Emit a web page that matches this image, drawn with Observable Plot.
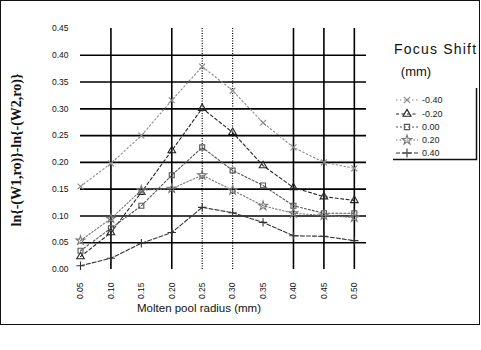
<!DOCTYPE html>
<html><head><meta charset="utf-8">
<script src="https://cdn.jsdelivr.net/npm/d3@7"></script>
<script src="https://cdn.jsdelivr.net/npm/@observablehq/plot@0.6"></script>
<style>
body{margin:0;background:#fff;}
#wrap{position:relative;width:481px;height:350px;overflow:hidden;font-family:Arial,"Liberation Sans",sans-serif;color:#111;}
#chart{position:absolute;left:0;top:0;}
#frame{position:absolute;left:0;top:0;width:478px;height:323px;border:1.5px solid #111;pointer-events:none;}
.t{position:absolute;white-space:nowrap;}
#ytitle{left:17px;top:150px;transform:translate(-50%,-50%) rotate(-90deg);font-family:"Liberation Serif","Times New Roman",serif;font-weight:bold;font-size:14px;}
#xtitle{left:199px;top:308px;transform:translate(-50%,-50%);font-size:11.5px;}
#ltitle{left:394px;top:49px;transform:translateY(-50%);font-size:14px;letter-spacing:1.2px;}
#lunit{left:416px;top:71px;transform:translate(-50%,-50%);font-size:13px;}
#legend{position:absolute;left:0;top:0;}
</style></head>
<body><div id="wrap"><div id="chart"></div><svg id="legend" width="481" height="350"></svg>
<div class="t" id="ytitle">ln{-(W1,ro)}-ln{-(W2,ro)}</div>
<div class="t" id="xtitle">Molten pool radius (mm)</div>
<div class="t" id="ltitle">Focus Shift</div>
<div class="t" id="lunit">(mm)</div>
<div id="frame"></div></div>
<script>
// Molten pool radius (mm) – x categories / tick labels
const radius = [0.05, 0.10, 0.15, 0.20, 0.25, 0.30, 0.35, 0.40, 0.45, 0.50];
// y tick labels
const yTicks = [0, 0.05, 0.10, 0.15, 0.20, 0.25, 0.30, 0.35, 0.40, 0.45];
const yGrid = [0.05, 0.10, 0.15, 0.20, 0.25, 0.30, 0.35, 0.40];
// vertical grid lines visible in the scan (solid and faint dotted ones)
const xGridSolid = [0.10, 0.20, 0.40, 0.45, 0.50];
const xGridDotted = [0.25, 0.30];
// Focus shift series names
const focusShifts = ["-0.40", "-0.20", "0.00", "0.20", "0.40"];
// series values
const shiftM040 = [0.155, 0.198, 0.250, 0.316, 0.379, 0.334, 0.274, 0.228, 0.200, 0.189];
const shiftM020 = [0.024, 0.069, 0.144, 0.222, 0.301, 0.256, 0.194, 0.153, 0.136, 0.129];
const shift000  = [0.035, 0.077, 0.119, 0.176, 0.228, 0.185, 0.157, 0.119, 0.105, 0.105];
const shift020  = [0.054, 0.095, 0.148, 0.151, 0.176, 0.148, 0.119, 0.105, 0.101, 0.097];
const shift040  = [0.007, 0.021, 0.049, 0.069, 0.116, 0.106, 0.088, 0.063, 0.062, 0.054];
const seriesValues = [shiftM040, shiftM020, shift000, shift020, shift040];

const styles = [
  {stroke:"#8a8a8a", dash:"1.5,2.5", symbol:"times"},
  {stroke:"#222", dash:"3,2.5", symbol:"triangle"},
  {stroke:"#555", dash:"2,2", symbol:"square"},
  {stroke:"#777", dash:"1.5,2", symbol:"star"},
  {stroke:"#333", dash:"4,2", symbol:"plus"}
];

const marks = [
  Plot.gridY(yGrid, {stroke:"#000", strokeOpacity:1, strokeWidth:1.6}),
  Plot.gridX(xGridSolid, {stroke:"#000", strokeOpacity:1, strokeWidth:1.6}),
  Plot.gridX(xGridDotted, {stroke:"#000", strokeOpacity:1, strokeWidth:1.2, strokeDasharray:"1,1.5"}),
  Plot.axisY(yTicks, {tickSize:0, tickPadding:12, tickFormat:d3.format(".2f"), fontSize:8.5, label:null}),
  Plot.axisX(radius, {tickSize:0, tickPadding:13, tickRotate:-90, tickFormat:d3.format(".2f"), fontSize:8.5, label:null})
];
seriesValues.forEach((vals, i) => {
  const d = radius.map((x, j) => ({x, y: vals[j]}));
  const s = styles[i];
  marks.push(Plot.line(d, {x:"x", y:"y", stroke:s.stroke, strokeWidth:1.1, strokeDasharray:s.dash}));
  marks.push(Plot.dot(d, {x:"x", y:"y", symbol:s.symbol, r:2.8, stroke:s.stroke, fill:"none", strokeWidth:1.1}));
});

const chart = Plot.plot({
  width:481, height:350,
  marginLeft:80, marginRight:115, marginTop:28, marginBottom:81,
  style:{fontFamily:"Arial, 'Liberation Sans', sans-serif", color:"#111", background:"transparent"},
  x:{domain:[0.05, 0.52], label:null},
  y:{domain:[0, 0.45], label:null},
  marks
});
document.getElementById("chart").appendChild(chart);

// legend
const lg = d3.select("#legend");
const ys = [100, 114, 127, 140, 153];
focusShifts.forEach((name, i) => {
  const s = styles[i];
  const y = ys[i];
  lg.append("line").attr("x1",396).attr("x2",418).attr("y1",y).attr("y2",y)
    .attr("stroke",s.stroke).attr("stroke-width",1.2).attr("stroke-dasharray",s.dash);
  const sym = d3.symbol().type({times:d3.symbolTimes,triangle:d3.symbolTriangle,square:d3.symbolSquare,star:d3.symbolStar,plus:d3.symbolPlus}[s.symbol]).size(28);
  lg.append("path").attr("d",sym()).attr("transform",`translate(407,${y})`)
    .attr("fill","none").attr("stroke",s.stroke).attr("stroke-width",1.1);
  lg.append("text").attr("x",422).attr("y",y).attr("dy","0.35em")
    .attr("font-size",9).attr("font-family","Arial, sans-serif").attr("fill","#222").text(name);
});
lg.append("path").attr("d","M393,159.5H476.5V88").attr("fill","none").attr("stroke","#111").attr("stroke-width",1.5);
</script>
</body></html>
